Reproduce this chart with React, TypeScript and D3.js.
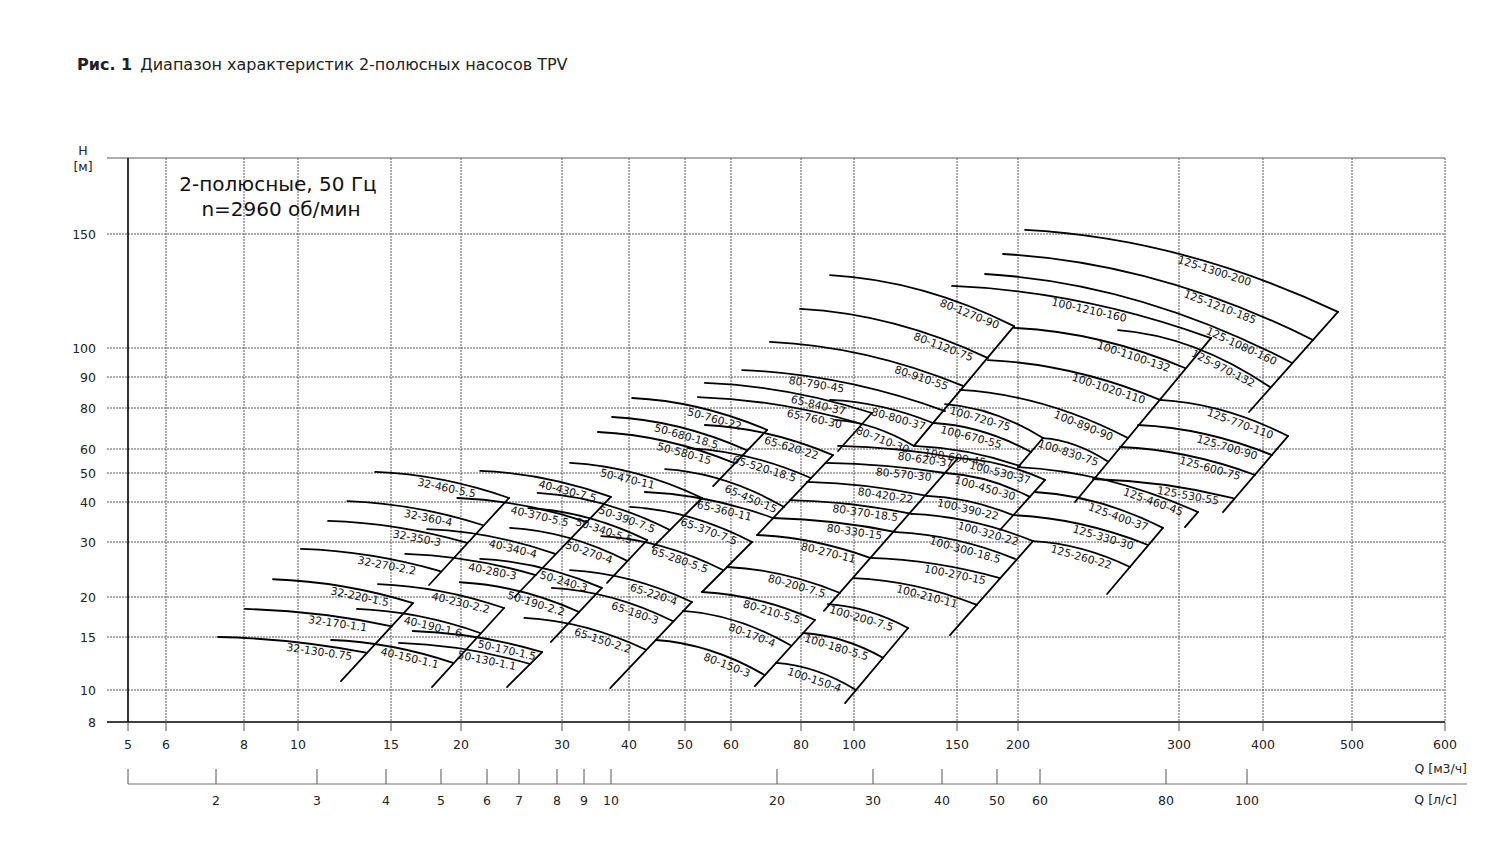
import React from "react";
import * as d3 from "d3";

// ---------- DATA (Q in m3/h, H in m) ----------
type Curve = [string, number, number, number, number]; // name, Qstart, Hstart, Qend, Hend
type Edge = [number, number, number, number]; // Qtop, Htop, Qbottom, Hbottom

const qTicks = [5, 6, 8, 10, 15, 20, 30, 40, 50, 60, 80, 100, 150, 200, 300, 400, 500, 600];
const hTicks = [8, 10, 15, 20, 30, 40, 50, 60, 80, 90, 100, 150];
const lsTicks = [2, 3, 4, 5, 6, 7, 8, 9, 10, 20, 30, 40, 50, 60, 80, 100];

const pumps32: Curve[] = [
  ["32-130-0.75", 7.27, 15.0, 13.45, 13.3],
  ["32-170-1.1", 8.03, 18.35, 15.06, 16.2],
  ["32-220-1.5", 9.02, 22.8, 16.42, 19.15],
  ["32-270-2.2", 10.13, 28.5, 18.35, 24.2],
  ["32-350-3", 11.4, 34.9, 20.5, 29.8],
  ["32-360-4", 12.4, 40.3, 21.8, 33.9],
  ["32-460-5.5", 14.0, 50.4, 24.25, 41.25],
];
const edges32: Edge[] = [
  [16.42, 19.15, 12.06, 10.7],
  [24.25, 41.25, 17.54, 21.85],
];

const pumps40: Curve[] = [
  ["40-150-1.1", 11.55, 14.66, 19.36, 12.3],
  ["40-190-1.6", 12.93, 18.35, 21.6, 15.44],
  ["40-230-2.2", 14.17, 22.0, 23.77, 18.48],
  ["40-280-3", 15.9, 27.5, 27.0, 23.5],
  ["40-340-4", 17.4, 32.9, 29.2, 27.5],
  ["40-370-5.5", 19.7, 41.25, 33.4, 34.6],
  ["40-430-7.5", 21.6, 50.8, 37.0, 41.6],
];
const edges40: Edge[] = [
  [23.77, 18.48, 17.75, 10.23],
  [37.0, 41.6, 24.8, 20],
];

const pumps50: Curve[] = [
  ["50-130-1.1", 15.5, 14.33, 26.4, 12.2],
  ["50-170-1.5", 16.4, 15.66, 27.7, 13.37],
  ["50-190-2.2", 19.9, 22.3, 32.3, 17.95],
  ["50-240-3", 21.6, 26.5, 35.6, 21.4],
  ["50-270-4", 24.35, 33.2, 39.7, 26.1],
  ["50-340-5.5", 26.2, 38.3, 43.0, 30.4],
  ["50-390-7.5", 27.2, 42.9, 47.1, 32.7],
  ["50-470-11", 31.05, 54.0, 53.5, 41.25],
  ["50-580-15", 35.0, 67.6, 60.7, 54.0],
  ["50-680-18.5", 37.2, 75.1, 63.8, 59.6],
  ["50-760-22", 40.5, 83.1, 69.6, 68.6],
];
const edges50: Edge[] = [
  [27.7, 13.37, 24.06, 10.23],
  [35.6, 21.4, 28.7, 14.44],
  [43.0, 30.4, 36.4, 22.2],
  [53.5, 41.25, 44.0, 28.9],
  [69.6, 68.6, 55.9, 45.2],
];

const pumps65: Curve[] = [
  ["65-150-2.2", 25.8, 17.2, 42.8, 13.6],
  ["65-180-3", 28.8, 21.4, 47.7, 16.8],
  ["65-220-4", 31.05, 24.4, 51.4, 19.3],
  ["65-280-5.5", 35.5, 31.3, 58.1, 24.4],
  ["65-370-7.5", 40.2, 38.6, 65.4, 30],
  ["65-360-11", 42.6, 43.2, 71.3, 35.65],
  ["65-450-15", 46.2, 51.5, 74.6, 38.6],
  ["65-520-18.5", 50.6, 60.4, 83.4, 48.1],
  ["65-620-22", 54.1, 71.0, 91.5, 57.3],
  ["65-760-30", 52.6, 83.4, 103.2, 71.5],
  ["65-840-37", 54.1, 88.0, 107.3, 77.25],
];
const edges65: Edge[] = [
  [51.4, 19.3, 36.9, 10.15],
  [65.4, 30, 53.5, 20.75],
  [91.5, 57.3, 66.8, 31.55],
  [107.3, 77.25, 93.5, 59.1],
];

const pumps80: Curve[] = [
  ["80-150-3", 44.5, 14.66, 69.0, 11.2],
  ["80-170-4", 49.6, 18.1, 76.5, 14.1],
  ["80-210-5.5", 53.5, 20.75, 84.85, 16.95],
  ["80-200-7.5", 59.05, 24.95, 94.3, 20.6],
  ["80-270-11", 66.8, 31.55, 106.5, 26.7],
  ["80-330-15", 71.3, 35.65, 118, 32.2],
  ["80-370-18.5", 76.5, 40.6, 125.6, 36.7],
  ["80-420-22", 82.0, 46.7, 133.3, 41.9],
  ["80-570-30", 88.7, 54.0, 143.1, 50],
  ["80-620-37", 93.5, 61.3, 150.7, 56.0],
  ["80-710-30", 92.3, 73.6, 126.6, 61.3],
  ["80-800-37", 90.4, 82.5, 136.5, 72.0],
  ["80-790-45", 62.8, 92.3, 143.1, 78.3],
  ["80-910-55", 70.4, 102.2, 154.3, 87.0],
  ["80-1120-75", 79.7, 114.9, 173.6, 96.4],
  ["80-1270-90", 90.4, 129.6, 196.3, 108.1],
];
const edges80: Edge[] = [
  [84.85, 16.95, 66.2, 10.3],
  [150.7, 56, 88.1, 18.1],
  [196.3, 108.1, 126.6, 61.3],
];

const pumps100: Curve[] = [
  ["100-150-4", 72.2, 12.3, 100.8, 10],
  ["100-180-5.5", 80.7, 15.44, 112.1, 12.8],
  ["100-200-7.5", 89.6, 19.0, 123.7, 16.0],
  ["100-210-11", 100, 23.0, 164.8, 18.9],
  ["100-270-15", 106.5, 26.7, 183.7, 23.0],
  ["100-300-18.5", 118, 32.2, 197.2, 26.5],
  ["100-320-22", 125.6, 36.7, 207.7, 30.2],
  ["100-390-22", 133.3, 41.9, 195.3, 36.4],
  ["100-450-30", 143.1, 50, 206.1, 41.6],
  ["100-530-37", 150.7, 56.0, 214.1, 47.4],
  ["100-600-45", 126.6, 61.3, 201, 52.7],
  ["100-670-55", 137, 72.0, 206.7, 58.65],
  ["100-720-75", 143.1, 81.2, 213, 64.8],
  ["100-830-75", 213, 64.8, 250.3, 54.8],
  ["100-890-90", 152.1, 85.7, 263.8, 64.8],
  ["100-1020-110", 173.6, 95.7, 286, 82.5],
  ["100-1100-132", 196.3, 107.4, 306.2, 93.0],
  ["100-1210-160", 147.1, 124.7, 334.7, 103.6],
];
const edges100: Edge[] = [
  [123.7, 16.0, 96.3, 9.13],
  [207.7, 30.2, 145.9, 15.2],
  [214.1, 47.4, 183.7, 32.7],
  [213, 64.8, 200, 52.3],
  [334.7, 103.6, 230.9, 40],
];

const pumps125: Curve[] = [
  ["125-260-22", 207.7, 30.2, 265.2, 24.95],
  ["125-330-30", 195.3, 36.4, 277.5, 29.35],
  ["125-400-37", 208.7, 43.2, 288.1, 33.2],
  ["125-460-45", 200, 52.3, 320.1, 37.2],
  ["125-530-55", 241.6, 47.75, 361, 41.25],
  ["125-600-75", 258.6, 60.85, 389.2, 49.24],
  ["125-700-90", 270.6, 71.0, 409.1, 57.3],
  ["125-770-110", 286, 82.5, 425.9, 65.7],
  ["125-970-132", 257.3, 106.6, 407.1, 86.65],
  ["125-1080-160", 171.2, 130.1, 430.2, 94.7],
  ["125-1210-185", 186.3, 139.7, 453.4, 102.9],
  ["125-1300-200", 203.6, 152.2, 482.7, 113.7],
];
const edges125: Edge[] = [
  [288.1, 33.2, 250.3, 20.45],
  [320.1, 37.2, 306.2, 33.4],
  [425.9, 65.7, 348.8, 37.2],
  [482.7, 113.7, 381.3, 77.8],
];

// ---------- LAYOUT / STYLE ----------
const W = 1500;
const H = 860;
// the reference axes are drawn piecewise: pixel knots for every tick value
const X_KNOTS = [128, 166, 244, 298, 391, 461, 562, 629, 685, 731, 801, 854, 957, 1018, 1179, 1263, 1352, 1445];
const Y_KNOTS = [722, 690, 637, 597, 542, 502, 473, 449, 408, 377, 348, 234];
const LS_KNOTS = [216, 317, 386, 441, 487, 519, 557, 584, 611, 777, 873, 942, 997, 1040, 1166, 1247];
const PLOT_TOP = 158;
const TICK_LEFT = 107;
const LS_AXIS_Y = 784;
const FONT = "'DejaVu Sans', Verdana, sans-serif";
const DEFAULT_SHIFT = 13;
const labelShift: Record<string, number> = {
  "32-460-5.5": 32, "32-360-4": 29, "32-350-3": 25, "32-270-2.2": 23, "32-220-1.5": 23,
  "32-170-1.1": 24, "40-190-1.6": 17, "40-280-3": 18, "40-340-4": 17, "40-370-5.5": 17,
  "50-170-1.5": 5, "50-470-11": 46, "50-580-15": 21, "50-680-18.5": 26, "50-760-22": 24,
  "65-360-11": 20, "65-450-15": 5, "65-760-30": 19, "65-840-37": 25,
  "80-620-37": 4, "80-710-30": 3, "80-800-37": 6, "80-790-45": 100,
  "100-210-11": 18, "100-600-45": 33, "100-670-55": 28, "100-720-75": 31, "100-830-75": 7,
  "100-1210-160": 83, "125-1210-185": 55, "125-1300-200": 85, "125-260-22": 17,
};

export default function App() {
  const x = d3.scaleLog().domain(qTicks).range(X_KNOTS);
  const y = d3.scaleLog().domain(hTicks).range(Y_KNOTS);
  const xs = d3.scaleLog().domain(lsTicks).range(LS_KNOTS);

  const curves: Curve[] = [pumps32, pumps40, pumps50, pumps65, pumps80, pumps100, pumps125].flat();
  const edges: Edge[] = [edges32, edges40, edges50, edges65, edges80, edges100, edges125].flat();

  const xMin = x(qTicks[0]);
  const xMax = x(qTicks[qTicks.length - 1]);
  const yMin = y(hTicks[0]);

  const curveGeom = (c: Curve) => {
    const x0 = x(c[1]), y0 = y(c[2]), x1 = x(c[3]), y1 = y(c[4]);
    const dx = x1 - x0, dy = y1 - y0;
    const c0 = 0.1 * dy;
    const p = d3.path();
    p.moveTo(x0, y0);
    p.quadraticCurveTo((x0 + x1) / 2, y0 + c0, x1, y1);
    const yAt = (t: number) => y0 + 2 * t * (1 - t) * c0 + t * t * dy;
    const slopeAt = (t: number) => (2 * (1 - 2 * t) * c0 + 2 * t * dy) / dx;
    const shift = labelShift[c[0]] ?? DEFAULT_SHIFT;
    const t = Math.max(0.35, 1 - shift / dx);
    const tc = Math.max(0.2, t - 28 / dx);
    const ang = (Math.atan(slopeAt(tc)) * 180) / Math.PI;
    return { d: p.toString(), lx: x0 + dx * t, ly: yAt(t), ang };
  };

  const gridStroke = "#5a5a5a";

  return (
    <svg
      width={W}
      height={H}
      style={{ position: "absolute", left: 0, top: 0, background: "#fff" }}
      fontFamily={FONT}
    >
      <rect x={0} y={0} width={W} height={H} fill="#fff" />
      {/* title */}
      <text x={77} y={70} fontSize={16} fill="#222">
        <tspan fontWeight="bold">Рис. 1</tspan>
        <tspan dx={8}>Диапазон характеристик 2-полюсных насосов TPV</tspan>
      </text>

      {/* horizontal grid + y ticks */}
      <line x1={TICK_LEFT} x2={xMax} y1={PLOT_TOP} y2={PLOT_TOP} stroke={gridStroke} strokeWidth={1} />
      {hTicks.map((h) => (
        <g key={"h" + h}>
          <line
            x1={TICK_LEFT}
            x2={xMax}
            y1={y(h)}
            y2={y(h)}
            stroke={h === hTicks[0] ? "#000" : gridStroke}
            strokeWidth={h === hTicks[0] ? 1.4 : 1}
            strokeDasharray={h === hTicks[0] ? undefined : "2 1"}
          />
          <text x={96} y={y(h) + 4.5} fontSize={12.5} textAnchor="end" fill="#222">
            {h}
          </text>
        </g>
      ))}

      {/* vertical grid + x ticks */}
      {qTicks.map((q) => (
        <g key={"q" + q}>
          {q !== qTicks[0] && (
            <line x1={x(q)} x2={x(q)} y1={PLOT_TOP} y2={yMin} stroke={gridStroke} strokeWidth={1} strokeDasharray="2 1" />
          )}
          <line x1={x(q)} x2={x(q)} y1={yMin} y2={yMin + 9} stroke="#555" strokeWidth={1} />
          <text x={x(q)} y={yMin + 27} fontSize={12.5} textAnchor="middle" fill="#222">
            {q}
          </text>
        </g>
      ))}
      <line x1={xMin} x2={xMin} y1={PLOT_TOP} y2={yMin} stroke="#000" strokeWidth={1.6} />

      {/* axis titles */}
      <text x={83} y={155} fontSize={12.5} textAnchor="middle" fill="#222">H</text>
      <text x={83} y={171} fontSize={12.5} textAnchor="middle" fill="#222">[м]</text>
      <text x={1467} y={773} fontSize={12.5} textAnchor="end" fill="#222">Q [м3/ч]</text>

      {/* secondary axis (l/s) */}
      <line x1={xMin} x2={1467} y1={LS_AXIS_Y} y2={LS_AXIS_Y} stroke="#777" strokeWidth={1} />
      <line x1={xMin} x2={xMin} y1={LS_AXIS_Y - 15} y2={LS_AXIS_Y} stroke="#555" strokeWidth={1} />
      {lsTicks.map((v) => (
        <g key={"ls" + v}>
          <line x1={xs(v)} x2={xs(v)} y1={LS_AXIS_Y - 15} y2={LS_AXIS_Y} stroke="#555" strokeWidth={1} />
          <text x={xs(v)} y={LS_AXIS_Y + 21} fontSize={12.5} textAnchor="middle" fill="#222">
            {v}
          </text>
        </g>
      ))}
      <text x={1457} y={804} fontSize={12.5} textAnchor="end" fill="#222">Q [л/с]</text>

      {/* inset */}
      <text x={278} y={191} fontSize={20} textAnchor="middle" fill="#111">2-полюсные, 50 Гц</text>
      <text x={281} y={216} fontSize={20} textAnchor="middle" fill="#111">n=2960 об/мин</text>

      {/* edges */}
      {edges.map((e, i) => (
        <line
          key={"e" + i}
          x1={x(e[0])}
          y1={y(e[1])}
          x2={x(e[2])}
          y2={y(e[3])}
          stroke="#000"
          strokeWidth={1.8}
          strokeLinecap="round"
        />
      ))}

      {/* curves + labels */}
      {curves.map((c) => {
        const g = curveGeom(c);
        return (
          <g key={c[0]}>
            <path d={g.d} fill="none" stroke="#000" strokeWidth={1.8} strokeLinecap="round" />
            <text
              transform={`translate(${g.lx},${g.ly}) rotate(${g.ang})`}
              y={10}
              fontSize={10.8}
              textAnchor="end"
              fill="#111"
            >
              {c[0]}
            </text>
          </g>
        );
      })}
    </svg>
  );
}
